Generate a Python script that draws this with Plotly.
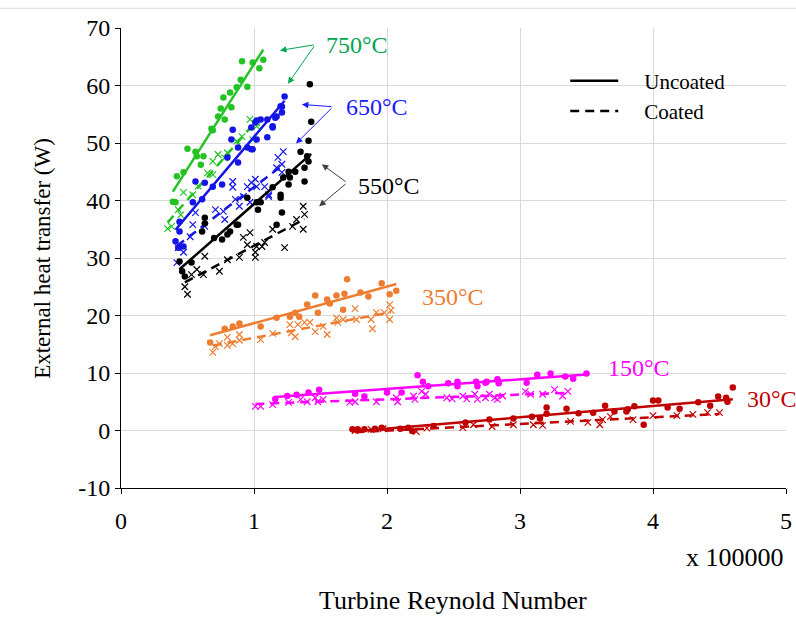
import numpy as np
import plotly.graph_objects as go

FONT = "Liberation Serif"

# ---------------- data (x in units of 1e5) ----------------
t750_u_x = [0.39,0.41,0.42,0.47,0.50,0.56,0.57,0.62,0.68,0.69,0.73,0.75,0.78,0.82,0.83,0.77,0.87,0.90,0.95,0.91,0.99,1.04,1.07,0.60]
t750_u_y = [39.8,39.7,44.2,44.9,49.0,48.5,47.7,47.7,52.5,52.2,54.6,56.0,54.1,58.8,56.2,57.9,59.7,61.0,59.8,64.2,64.0,63.0,64.5,46.2]
t750_c_x = [0.35,0.38,0.43,0.47,0.54,0.65,0.69,0.69,0.73,0.78,0.80,0.87,0.91,0.97,0.99,1.02,1.02,0.58,0.45]
t750_c_y = [35.1,35.5,38.4,41.4,41.0,44.8,44.5,46.8,48.0,47.4,48.3,50.3,51.1,54.1,50.6,52.9,53.5,42.5,37.5]

t650_u_x = [0.41,0.43,0.44,0.44,0.47,0.54,0.56,0.61,0.63,0.69,0.76,0.80,0.83,0.84,0.88,0.88,0.95,0.98,0.98,0.99,1.01,1.02,1.02,1.05,1.10,1.10,1.14,1.14,1.16,1.17,1.20,1.21,1.21,1.23]
t650_u_y = [32.9,31.8,34.6,36.3,32.0,39.7,43.3,40.2,43.1,42.4,42.8,47.5,50.6,52.3,46.6,49.2,49.2,52.7,48.9,48.9,53.6,50.6,53.9,54.1,54.1,51.0,52.7,52.9,54.4,54.6,56.4,55.3,56.3,58.1]
t650_c_x = [0.42,0.43,0.47,0.52,0.54,0.56,0.63,0.71,0.77,0.78,0.84,0.84,0.86,0.89,0.92,0.95,0.97,0.98,1.01,1.02,1.08,1.11,1.11,1.17,1.18,1.21,1.21,1.22]
t650_c_y = [29.2,31.8,31.0,33.7,35.8,37.9,35.5,38.4,38.1,36.7,43.3,42.3,40.2,39.0,40.7,42.4,39.7,43.1,43.7,42.4,42.4,40.7,41.0,45.7,47.5,44.9,46.3,48.5]

t550_u_x = [0.44,0.46,0.48,0.53,0.61,0.63,0.63,0.76,0.80,0.82,0.87,0.88,1.02,1.03,1.05,1.14,1.17,1.20,1.20,1.21,1.22,1.26,1.26,1.27,1.31,1.35,1.38,1.38,1.40,1.41,1.41,1.42,1.43,0.70,0.95]
t550_u_y = [29.4,27.7,26.8,29.2,34.6,37.0,36.0,33.2,34.1,34.6,35.8,35.8,39.7,38.4,39.7,42.3,35.8,41.0,40.5,37.9,44.0,42.8,45.0,44.0,45.0,48.5,43.3,45.7,47.7,46.8,50.4,60.2,53.7,33.5,40.5]
t550_c_x = [0.48,0.50,0.53,0.57,0.62,0.63,0.74,0.80,0.89,0.92,0.95,0.97,1.01,1.01,1.02,1.06,1.08,1.14,1.23,1.29,1.32,1.37,1.37,1.38]
t550_c_y = [25.0,23.7,27.1,28.0,27.1,30.3,27.7,29.7,30.1,33.6,32.3,34.4,30.1,31.0,32.0,32.0,32.7,35.0,31.8,35.5,36.7,35.0,39.0,37.6]

t350_u_x = [0.67,0.78,0.84,0.89,1.05,1.17,1.27,1.31,1.34,1.40,1.46,1.48,1.55,1.57,1.62,1.67,1.68,1.70,1.80,1.86,1.96,2.02,2.07]
t350_u_y = [15.3,17.7,18.1,18.6,18.1,19.6,19.8,20.5,19.8,21.9,23.5,20.5,22.8,22.1,23.5,21.0,23.8,26.3,24.0,23.3,25.6,23.7,24.3]
t350_c_x = [0.69,0.71,0.74,0.80,0.80,0.84,0.89,0.89,1.05,1.14,1.27,1.28,1.31,1.33,1.38,1.42,1.46,1.52,1.55,1.62,1.63,1.67,1.76,1.77,1.88,1.89,1.92,1.98,2.02,2.02,2.03]
t350_c_y = [13.6,14.6,15.1,16.2,14.8,15.1,16.7,15.7,15.8,16.9,18.4,17.0,16.3,18.4,18.8,18.8,17.2,18.1,16.7,19.6,18.8,19.3,21.2,19.3,19.3,17.7,20.5,20.5,21.9,19.3,20.9]

t150_u_x = [1.16,1.25,1.32,1.41,1.49,1.76,1.83,2.00,2.11,2.23,2.27,2.31,2.46,2.53,2.53,2.67,2.68,2.74,2.75,2.83,2.84,3.05,3.13,3.23,3.34,3.40,3.50]
t150_u_y = [5.5,6.0,6.2,6.6,7.1,6.4,5.9,6.6,6.6,9.6,8.5,7.7,8.2,8.5,7.7,8.5,7.7,8.3,8.5,8.9,8.2,8.3,9.7,9.9,9.4,9.0,9.9]
t150_c_x = [1.01,1.05,1.14,1.26,1.35,1.40,1.46,1.48,1.52,1.72,1.76,1.92,2.07,2.08,2.20,2.21,2.26,2.29,2.45,2.49,2.57,2.60,2.66,2.68,2.74,2.77,2.81,2.83,2.87,3.04,3.08,3.17,3.26,3.32,3.36]
t150_c_y = [4.2,4.2,4.5,4.9,5.4,5.0,5.7,5.0,5.4,4.9,5.0,5.0,5.7,5.0,6.0,5.4,6.8,6.3,5.7,5.5,6.0,5.5,6.3,5.4,5.7,6.3,5.7,5.4,6.0,6.8,6.3,6.3,7.1,6.0,6.8]

t30_u_x = [1.74,1.78,1.83,1.91,1.96,2.10,2.16,2.19,2.35,2.59,2.77,2.95,3.09,3.15,3.20,3.20,3.35,3.44,3.55,3.64,3.71,3.80,3.81,3.86,3.93,4.00,4.04,4.11,4.20,4.34,4.43,4.49,4.55,4.56,4.60]
t30_u_y = [0.2,0.2,0.2,0.3,0.5,0.3,0.5,-0.1,0.8,1.4,1.9,2.1,2.4,2.1,4.0,2.9,3.8,3.0,3.1,4.3,3.3,3.3,3.7,4.2,1.0,5.2,5.2,4.0,3.8,4.9,4.3,5.9,5.7,5.0,7.5]
t30_c_x = [1.76,1.88,1.97,2.22,2.30,2.57,2.65,2.79,2.95,3.10,3.17,3.38,3.51,3.60,3.62,3.68,3.85,4.00,4.18,4.30,4.41,4.50]
t30_c_y = [0.0,0.2,0.3,-0.2,0.4,0.5,1.0,0.7,1.0,1.0,0.9,1.6,1.4,1.0,1.9,2.4,1.9,2.6,2.6,2.8,3.1,3.1]

series = [
    ("750°C", "#22c322", "#00a650", t750_u_x, t750_u_y, t750_c_x, t750_c_y),
    ("650°C", "#1414e6", "#1a1aff", t650_u_x, t650_u_y, t650_c_x, t650_c_y),
    ("550°C", "#000000", "#000000", t550_u_x, t550_u_y, t550_c_x, t550_c_y),
    ("350°C", "#ed7d31", "#ed7d31", t350_u_x, t350_u_y, t350_c_x, t350_c_y),
    ("150°C", "#ff00ff", "#ff00ff", t150_u_x, t150_u_y, t150_c_x, t150_c_y),
    ("30°C",  "#c00000", "#c00000", t30_u_x, t30_u_y, t30_c_x, t30_c_y),
]

x_ticks = [0, 1, 2, 3, 4, 5]
y_ticks = [-10, 0, 10, 20, 30, 40, 50, 60, 70]
y_tick_labels = ["-10", "0", "10", "20", "30", "40", "50", "60", "70"]
legend_names = ["Uncoated", "Coated"]

# label positions (data coords) and arrows
labels = {
    "750°C": (1.53, 67.1),
    "650°C": (1.68, 56.3),
    "550°C": (1.77, 42.6),
    "350°C": (2.25, 23.3),
    "150°C": (3.65, 10.8),
    "30°C":  (4.69, 5.4),
}
arrows = [  # (tail x, tail y, head x, head y, color)
    (1.46, 67.1, 1.195, 66.1, "#00a650"),
    (1.46, 67.1, 1.255, 60.3, "#00a650"),
    (1.594, 56.3, 1.36, 56.7, "#1a1aff"),
    (1.594, 56.3, 1.316, 49.9, "#1a1aff"),
    (1.70, 43.1, 1.51, 46.3, "#404040"),
    (1.70, 43.1, 1.49, 39.0, "#404040"),
]

DASH = "9px,6px"
fig = go.Figure()

def fit_line(xs, ys):
    xs = np.asarray(xs); ys = np.asarray(ys)
    k, b = np.polyfit(xs, ys, 1)
    xl = np.array([xs.min(), xs.max()])
    return xl, k * xl + b

for name, col, tcol, ux, uy, cx, cy in series:
    fig.add_trace(go.Scatter(x=cx, y=cy, mode="markers", showlegend=False,
                             marker=dict(symbol="x-thin", size=6.5, line=dict(color=col, width=1.2))))
    fig.add_trace(go.Scatter(x=ux, y=uy, mode="markers", showlegend=False,
                             marker=dict(symbol="circle", size=6.5, color=col, line=dict(width=0))))
    lx, ly = fit_line(ux, uy)
    fig.add_trace(go.Scatter(x=lx, y=ly, mode="lines", showlegend=False,
                             line=dict(color=col, width=2.5)))
    lx, ly = fit_line(cx, cy)
    fig.add_trace(go.Scatter(x=lx, y=ly, mode="lines", showlegend=False,
                             line=dict(color=col, width=2.5, dash=DASH)))

# legend entries (leading no-break spaces widen the gap between sample and text)
pad = "\u00a0\u00a0\u00a0\u00a0"
fig.add_trace(go.Scatter(x=[None], y=[None], mode="lines", name=pad + legend_names[0],
                         line=dict(color="black", width=2.5)))
fig.add_trace(go.Scatter(x=[None], y=[None], mode="lines", name=pad + legend_names[1],
                         line=dict(color="black", width=2.5, dash=DASH)))

annotations = []
for name, col, tcol, *_ in series:
    lx, ly = labels[name]
    annotations.append(dict(x=lx, y=ly, xref="x", yref="y", text=name, showarrow=False,
                            xanchor="left", yanchor="middle",
                            font=dict(family=FONT, size=24, color=tcol)))
for tx, ty, hx, hy, c in arrows:
    annotations.append(dict(x=hx, y=hy, ax=tx, ay=ty, xref="x", yref="y", axref="x", ayref="y",
                            text="", showarrow=True, arrowhead=2, arrowsize=1.3, arrowwidth=1,
                            arrowcolor=c, standoff=0, startstandoff=0))

annotations += [
    dict(x=-0.119, y=0.5, xref="paper", yref="paper", text="External heat transfer (W)",
         textangle=-90, showarrow=False, xanchor="center", yanchor="middle",
         font=dict(family=FONT, size=23, color="black")),
    dict(x=0.499, y=-0.245, xref="paper", yref="paper", text="Turbine Reynold Number",
         showarrow=False, xanchor="center", yanchor="middle",
         font=dict(family=FONT, size=26, color="black")),
    dict(x=1.0, y=-0.150, xref="paper", yref="paper", text="x 100000", xanchor="right",
         yanchor="middle", showarrow=False, font=dict(family=FONT, size=26, color="black")),
]

axis_common = dict(showgrid=True, gridcolor="#d9d9d9", gridwidth=1, zeroline=False,
                   showline=True, linecolor="black", linewidth=1, ticks="outside",
                   ticklen=5, tickcolor="black", automargin=False,
                   tickfont=dict(family=FONT, size=24, color="black"))

fig.update_layout(
    width=796, height=617,
    margin=dict(l=121, r=10, t=28, b=129),
    paper_bgcolor="white", plot_bgcolor="white",
    xaxis=dict(range=[0, 5], tickvals=x_ticks, ticklabelstandoff=6, **axis_common),
    yaxis=dict(range=[-10, 70], tickvals=y_ticks, ticktext=y_tick_labels, **axis_common),
    annotations=annotations,
    showlegend=True,
    legend=dict(x=0.668, y=0.929, xanchor="left", yanchor="top", bgcolor="rgba(0,0,0,0)",
                font=dict(family=FONT, size=21, color="black"), itemwidth=48,
                tracegroupgap=0),
    shapes=[dict(type="line", xref="paper", yref="paper", x0=-0.19, x1=1.02, y0=1.043, y1=1.043,
                 line=dict(color="#d9d9d9", width=1))],
)

fig.write_html("out.html", config={"displayModeBar": False},
               post_script="document.body.style.margin='0';document.body.style.overflow='hidden';")
